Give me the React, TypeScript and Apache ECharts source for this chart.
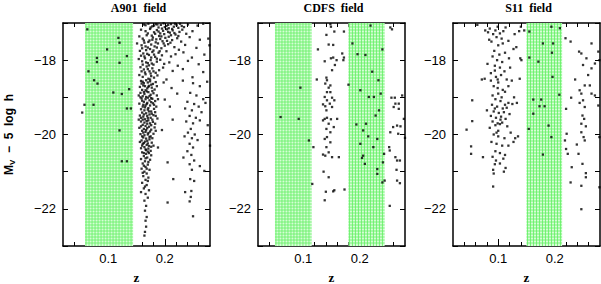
import React, { useEffect, useRef } from "react";
import * as echarts from "echarts";

// ---------- DATA ----------
const panelTitles = ["A901  field", "CDFS  field", "S11  field"];
const xMin = 0.02;
const xMax = 0.28;
const yMin = -23;
const yMax = -17;
const xMajorTicks = [0.1, 0.2];
const xMinorTicks = [0.04, 0.06, 0.08, 0.1, 0.12, 0.14, 0.16, 0.18, 0.2, 0.22, 0.24, 0.26];

// green shaded redshift bands per panel [zStart, zEnd]
const a901Bands = [[0.059, 0.144]];
const cdfsBands = [[0.05, 0.115], [0.18, 0.244]];
const s11Bands = [[0.15, 0.213]];

// A901 points inside / left of the band
const a901Field: number[][] = [
  [0.063, -17.17], [0.118, -17.4], [0.12, -17.53], [0.098, -17.71], [0.133, -17.89], [0.08, -17.94],
  [0.08, -18.05], [0.12, -18.07], [0.065, -18.3], [0.075, -18.54], [0.081, -18.63], [0.109, -18.87],
  [0.124, -18.91], [0.137, -18.78], [0.058, -19.2], [0.074, -19.2], [0.054, -19.41], [0.133, -19.3],
  [0.14, -19.3], [0.12, -19.89], [0.124, -20.72], [0.133, -20.72],
];

// A901 bright end (top) of the cluster
const a901Top: number[][] = [
  [0.163, -17.04], [0.171, -17.02], [0.178, -17.09], [0.184, -17.03], [0.189, -17.12], [0.193, -17.05],
  [0.198, -17.01], [0.203, -17.08], [0.207, -17.14], [0.211, -17.03], [0.216, -17.1], [0.221, -17.06],
  [0.227, -17.02], [0.234, -17.11], [0.241, -17.04], [0.258, -17.07], [0.268, -17.02],
  [0.158, -17.18], [0.166, -17.22], [0.174, -17.16], [0.181, -17.25], [0.186, -17.19], [0.192, -17.28],
  [0.197, -17.21], [0.204, -17.17], [0.209, -17.26], [0.214, -17.2], [0.219, -17.31], [0.226, -17.24],
  [0.231, -17.18], [0.238, -17.29], [0.249, -17.22],
  [0.155, -17.36], [0.161, -17.42], [0.168, -17.33], [0.173, -17.47], [0.179, -17.39], [0.185, -17.44],
  [0.19, -17.35], [0.196, -17.49], [0.201, -17.4], [0.207, -17.37], [0.213, -17.46], [0.222, -17.41],
  [0.229, -17.5], [0.244, -17.38], [0.262, -17.45], [0.277, -17.42],
  [0.151, -17.55], [0.159, -17.6], [0.164, -17.53], [0.17, -17.66], [0.176, -17.58], [0.182, -17.63],
  [0.188, -17.55], [0.194, -17.68], [0.2, -17.61], [0.206, -17.57], [0.217, -17.65], [0.225, -17.72],
  [0.236, -17.59], [0.256, -17.67], [0.279, -17.6],
  [0.156, -17.75], [0.162, -17.82], [0.167, -17.73], [0.172, -17.86], [0.178, -17.78], [0.183, -17.91],
  [0.189, -17.8], [0.195, -17.87], [0.203, -17.76], [0.211, -17.9], [0.219, -17.84], [0.233, -17.79],
  [0.248, -17.93], [0.27, -17.85],
  [0.154, -17.97], [0.16, -18.03], [0.165, -17.95], [0.17, -18.08], [0.175, -18.0], [0.18, -18.12],
  [0.186, -18.04], [0.192, -17.99], [0.199, -18.1], [0.208, -18.06], [0.223, -18.15], [0.241, -18.02],
  [0.26, -18.11],
  [0.157, -18.19], [0.163, -18.25], [0.168, -18.17], [0.173, -18.3], [0.178, -18.22], [0.184, -18.34],
  [0.19, -18.27], [0.197, -18.2], [0.214, -18.29], [0.232, -18.24], [0.268, -18.32],
  [0.155, -18.4], [0.161, -18.45], [0.166, -18.38], [0.171, -18.5], [0.176, -18.43], [0.181, -18.47],
  [0.187, -18.41], [0.203, -18.52], [0.249, -18.46],
  [0.166, -17.06], [0.175, -17.12], [0.181, -17.07], [0.187, -17.04], [0.195, -17.15], [0.2, -17.11],
  [0.206, -17.05], [0.213, -17.16], [0.218, -17.02], [0.224, -17.13], [0.23, -17.08], [0.17, -17.28],
  [0.177, -17.34], [0.183, -17.29], [0.189, -17.23], [0.194, -17.36], [0.199, -17.3], [0.206, -17.24],
  [0.211, -17.33], [0.217, -17.27], [0.224, -17.35], [0.163, -17.47], [0.171, -17.51], [0.178, -17.45],
  [0.184, -17.52], [0.192, -17.43], [0.198, -17.55], [0.204, -17.48], [0.21, -17.53], [0.16, -17.68],
  [0.166, -17.63], [0.174, -17.7], [0.18, -17.74], [0.186, -17.66], [0.191, -17.76], [0.158, -17.88],
  [0.164, -17.9], [0.169, -17.83], [0.176, -17.93], [0.181, -17.85], [0.186, -17.96], [0.161, -18.12],
  [0.167, -18.06], [0.172, -18.14], [0.177, -18.09], [0.159, -18.3], [0.165, -18.33], [0.17, -18.24],
  [0.175, -18.36], [0.18, -18.3],
];

// A901 dense core of the cluster
const a901Core: number[][] = [
  [0.158, -18.56], [0.163, -18.62], [0.167, -18.54], [0.17, -18.6], [0.174, -18.57], [0.179, -18.64],
  [0.184, -18.59], [0.162, -18.68], [0.156, -18.72], [0.165, -18.7], [0.169, -18.76], [0.172, -18.69],
  [0.177, -18.74], [0.182, -18.79], [0.16, -18.8], [0.168, -18.84], [0.157, -18.88], [0.164, -18.91],
  [0.171, -18.86], [0.175, -18.93], [0.18, -18.89], [0.186, -18.95], [0.161, -18.97], [0.167, -18.99],
  [0.159, -19.03], [0.166, -19.05], [0.17, -19.01], [0.173, -19.08], [0.178, -19.04], [0.183, -19.1],
  [0.163, -19.12], [0.169, -19.15], [0.155, -19.17], [0.162, -19.2], [0.168, -19.18], [0.174, -19.22],
  [0.179, -19.16], [0.185, -19.25], [0.165, -19.27], [0.171, -19.29], [0.158, -19.32], [0.164, -19.35],
  [0.17, -19.33], [0.176, -19.38], [0.181, -19.31], [0.16, -19.41], [0.167, -19.43], [0.173, -19.46],
  [0.156, -19.49], [0.162, -19.52], [0.169, -19.5], [0.175, -19.55], [0.18, -19.48], [0.187, -19.57],
  [0.165, -19.59], [0.171, -19.62], [0.158, -19.65], [0.164, -19.68], [0.168, -19.64], [0.174, -19.7],
  [0.179, -19.66], [0.161, -19.74], [0.166, -19.77], [0.172, -19.79], [0.155, -19.82], [0.163, -19.85],
  [0.169, -19.83], [0.176, -19.87], [0.182, -19.81], [0.16, -19.9], [0.166, -19.93], [0.171, -19.96],
  [0.157, -19.99], [0.164, -20.02], [0.17, -20.0], [0.175, -20.05], [0.18, -19.98], [0.162, -20.08],
  [0.167, -20.11], [0.173, -20.13], [0.159, -20.16], [0.165, -20.19], [0.169, -20.17], [0.177, -20.22],
  [0.161, -20.25], [0.168, -20.28], [0.172, -20.31], [0.164, -20.34], [0.158, -20.37], [0.166, -20.4],
  [0.171, -20.38], [0.175, -20.44],
  [0.161, -18.58], [0.176, -18.66], [0.166, -18.81], [0.173, -18.97], [0.16, -19.09], [0.176, -19.13],
  [0.166, -19.22], [0.177, -19.44], [0.163, -19.46], [0.17, -19.56], [0.176, -19.75], [0.167, -19.88],
  [0.173, -20.07], [0.163, -20.23], [0.17, -20.46],
  [0.159, -18.63], [0.171, -18.72], [0.178, -18.83], [0.163, -18.86], [0.157, -19.0], [0.176, -19.02],
  [0.181, -19.2], [0.161, -19.25], [0.172, -19.38], [0.183, -19.4], [0.158, -19.55], [0.178, -19.6],
  [0.161, -19.6], [0.169, -19.71], [0.183, -19.71], [0.158, -19.78], [0.174, -19.92], [0.162, -19.95],
  [0.178, -20.1], [0.16, -20.05], [0.17, -20.24], [0.176, -20.33], [0.16, -20.3], [0.167, -20.42],
  [0.163, -20.5], [0.176, -20.56], [0.166, -20.64], [0.171, -20.74], [0.163, -20.84], [0.168, -20.92],
  [0.161, -21.03], [0.17, -21.25], [0.165, -21.4], [0.174, -18.52], [0.186, -18.7], [0.188, -19.05],
  [0.184, -19.5], [0.184, -19.9], [0.18, -20.3], [0.154, -18.95], [0.154, -19.6], [0.156, -20.2],
  [0.16, -20.48], [0.167, -20.52], [0.172, -20.5], [0.163, -20.58], [0.169, -20.62], [0.158, -20.66],
  [0.174, -20.68], [0.165, -20.72], [0.161, -20.78], [0.17, -20.81], [0.166, -20.87], [0.159, -20.92],
  [0.173, -20.95], [0.164, -21.0], [0.168, -21.05], [0.162, -21.12], [0.171, -21.16], [0.166, -21.22],
  [0.16, -21.3], [0.168, -21.36], [0.163, -21.45], [0.172, -21.5], [0.158, -21.55], [0.166, -21.6],
  [0.17, -21.7], [0.164, -21.78], [0.167, -21.92], [0.165, -22.05], [0.168, -22.22], [0.166, -22.32],
  [0.167, -22.48], [0.165, -22.62], [0.164, -22.72],
];

// A901 background galaxies at higher z
const a901Back: number[][] = [
  [0.198, -18.6], [0.212, -18.75], [0.232, -18.55], [0.25, -18.62], [0.262, -18.7], [0.275, -18.58],
  [0.245, -18.88], [0.256, -18.95], [0.222, -18.9], [0.268, -19.05], [0.24, -19.12], [0.252, -19.18],
  [0.26, -19.25], [0.272, -19.15], [0.236, -19.3], [0.248, -19.35], [0.265, -19.4], [0.209, -19.25],
  [0.244, -19.5], [0.255, -19.55], [0.238, -19.65], [0.25, -19.7], [0.262, -19.62], [0.276, -19.75],
  [0.214, -19.6], [0.246, -19.85], [0.241, -19.95], [0.253, -20.0], [0.235, -20.05], [0.248, -20.1],
  [0.258, -20.15], [0.244, -20.25], [0.25, -20.35], [0.28, -20.3], [0.24, -20.45], [0.247, -20.55],
  [0.233, -20.62], [0.252, -20.7], [0.244, -20.8], [0.262, -20.85], [0.248, -20.95], [0.27, -20.98],
  [0.245, -21.2], [0.252, -21.25], [0.236, -21.55], [0.247, -21.52], [0.246, -21.68], [0.244, -21.8],
  [0.205, -21.83], [0.25, -22.2], [0.188, -20.35], [0.195, -19.88], [0.2, -19.06], [0.205, -20.75],
  [0.215, -21.2],
];

const cdfsPoints: number[][] = [
  [0.06, -19.53], [0.092, -19.58], [0.095, -18.74], [0.11, -20.16], [0.118, -20.34], [0.116, -21.33],
  [0.126, -17.71], [0.124, -18.52],
  [0.148, -17.03], [0.149, -17.1], [0.141, -17.32], [0.155, -17.23], [0.145, -17.58], [0.153, -17.59],
  [0.138, -18.03], [0.149, -17.95], [0.153, -17.93], [0.159, -18.0], [0.156, -18.13], [0.151, -18.27],
  [0.141, -18.47], [0.142, -18.54], [0.139, -18.63], [0.148, -18.68], [0.145, -18.74], [0.142, -18.86],
  [0.148, -18.86], [0.138, -18.99], [0.142, -19.08], [0.151, -19.01], [0.155, -19.08], [0.135, -19.19],
  [0.139, -19.24], [0.147, -19.17], [0.151, -19.26], [0.141, -19.35], [0.138, -19.58], [0.142, -19.55],
  [0.135, -19.62], [0.149, -19.59], [0.16, -19.58], [0.145, -19.71], [0.154, -19.8], [0.141, -19.85],
  [0.148, -19.94], [0.142, -20.07], [0.138, -20.12], [0.148, -20.21], [0.141, -20.34], [0.145, -20.48],
  [0.135, -20.54], [0.139, -20.57], [0.151, -20.61], [0.163, -20.61], [0.136, -21.0], [0.145, -21.15],
  [0.14, -21.54], [0.138, -21.77], [0.153, -21.53], [0.155, -21.5], [0.173, -21.48], [0.172, -17.23],
  [0.169, -17.82], [0.172, -17.93], [0.171, -18.0],
  [0.18, -18.66], [0.187, -17.55], [0.196, -17.84], [0.201, -18.81], [0.21, -17.86], [0.222, -18.31],
  [0.216, -18.99], [0.225, -18.99], [0.233, -18.54], [0.24, -17.71], [0.237, -18.9], [0.228, -19.49],
  [0.234, -19.35], [0.211, -19.71], [0.206, -19.89], [0.201, -20.25], [0.206, -20.57], [0.204, -20.63],
  [0.209, -20.79], [0.215, -20.05], [0.224, -20.34], [0.231, -20.12], [0.231, -20.93], [0.231, -21.06],
  [0.24, -21.29], [0.243, -20.52], [0.241, -20.75], [0.244, -21.24], [0.194, -19.73], [0.219, -17.07],
  [0.254, -17.12], [0.257, -17.17], [0.253, -21.92], [0.252, -20.34], [0.256, -19.01], [0.26, -19.26],
  [0.263, -19.17], [0.269, -19.31], [0.259, -19.8], [0.266, -19.76], [0.272, -19.78], [0.268, -19.98],
  [0.254, -19.94], [0.253, -20.43], [0.263, -20.61], [0.266, -20.7], [0.271, -20.7], [0.265, -20.95],
  [0.266, -21.24], [0.271, -21.31], [0.278, -19.58], [0.28, -20.09], [0.275, -18.95], [0.262, -19.01],
  [0.269, -19.17],
];

const s11Points: number[][] = [
  [0.063, -17.05], [0.077, -17.2], [0.082, -17.25], [0.085, -17.15], [0.091, -17.3], [0.095, -17.2],
  [0.099, -17.1], [0.103, -17.28], [0.109, -17.22], [0.113, -17.12], [0.129, -17.3], [0.137, -17.22],
  [0.14, -17.1], [0.146, -17.2], [0.088, -17.5], [0.084, -17.45], [0.1, -17.6], [0.108, -17.55],
  [0.118, -17.48], [0.127, -17.7], [0.132, -17.65], [0.093, -17.75], [0.102, -17.85], [0.112, -17.8],
  [0.09, -17.9], [0.098, -18.0], [0.107, -18.05], [0.119, -17.95], [0.139, -17.95], [0.141, -18.0],
  [0.081, -18.1], [0.094, -18.15], [0.103, -18.2], [0.111, -18.3], [0.087, -18.35], [0.096, -18.45],
  [0.105, -18.4], [0.076, -18.5], [0.087, -18.55], [0.1, -18.6], [0.115, -18.52], [0.124, -18.55],
  [0.138, -18.5], [0.092, -18.7], [0.099, -18.75], [0.108, -18.8], [0.118, -18.7], [0.09, -18.95],
  [0.1, -18.9], [0.112, -18.85], [0.128, -19.0], [0.095, -19.05], [0.104, -19.1], [0.118, -19.15],
  [0.125, -19.18], [0.133, -19.15], [0.089, -19.2], [0.098, -19.25], [0.108, -19.3], [0.115, -19.28],
  [0.08, -19.35], [0.092, -19.38], [0.101, -19.42], [0.11, -19.4], [0.12, -19.45], [0.087, -19.5],
  [0.096, -19.55], [0.105, -19.52], [0.113, -19.58], [0.09, -19.65], [0.099, -19.7], [0.107, -19.68],
  [0.095, -19.75], [0.103, -19.72], [0.116, -19.78], [0.085, -19.82], [0.1, -19.9], [0.122, -19.95],
  [0.092, -20.0], [0.1, -20.05], [0.13, -20.1], [0.135, -20.05], [0.127, -20.2], [0.088, -20.2],
  [0.097, -20.25], [0.107, -20.3], [0.118, -20.3], [0.095, -20.45], [0.103, -20.5], [0.112, -20.55],
  [0.09, -20.6], [0.109, -20.65], [0.094, -20.8], [0.103, -20.78], [0.091, -20.95], [0.113, -20.9],
  [0.092, -21.05], [0.11, -21.0], [0.091, -21.4],
  [0.097, -17.38], [0.106, -17.42], [0.094, -18.28], [0.099, -18.52], [0.106, -19.0], [0.094, -19.3],
  [0.104, -19.6], [0.112, -19.2], [0.097, -19.95], [0.111, -20.1], [0.096, -20.7], [0.121, -18.2],
  [0.044, -19.87], [0.052, -20.32], [0.052, -20.52], [0.054, -19.08], [0.054, -19.64], [0.073, -20.61],
  [0.071, -18.52],
  [0.155, -17.23], [0.171, -18.04], [0.155, -17.93], [0.179, -17.55], [0.197, -17.55], [0.195, -17.8],
  [0.209, -17.14], [0.196, -18.45], [0.208, -18.93], [0.162, -19.06], [0.176, -19.06], [0.173, -19.24],
  [0.182, -19.24], [0.162, -19.44], [0.154, -19.85], [0.189, -19.76], [0.194, -20.07], [0.179, -20.54],
  [0.194, -17.1],
  [0.228, -17.5], [0.219, -17.41], [0.243, -17.77], [0.247, -17.82], [0.256, -17.95], [0.265, -17.55],
  [0.277, -17.77], [0.279, -18.0], [0.271, -18.09], [0.265, -18.22], [0.259, -18.4], [0.25, -18.13],
  [0.236, -18.52], [0.253, -18.68], [0.262, -18.68], [0.244, -18.81], [0.247, -18.9], [0.229, -19.01],
  [0.25, -19.08], [0.244, -19.15], [0.253, -19.26], [0.249, -19.49], [0.252, -19.58], [0.247, -19.71],
  [0.255, -19.78], [0.247, -19.94], [0.251, -20.07], [0.253, -20.16], [0.22, -19.31], [0.221, -19.98],
  [0.218, -20.16], [0.22, -20.39], [0.223, -20.52], [0.239, -20.27], [0.242, -20.52], [0.23, -20.88],
  [0.228, -21.29], [0.249, -20.79], [0.255, -21.04], [0.247, -21.38], [0.255, -21.15], [0.247, -22.01],
  [0.277, -19.22], [0.279, -20.07], [0.279, -21.42], [0.271, -18.95], [0.265, -18.9],
];

// ---------- CHART ----------
const gridLefts = [63, 258, 453];
const gridTop = 23;
const gridW = 147;
const gridH = 223;

export default function App() {
  const ref = useRef<HTMLDivElement>(null);
  useEffect(() => {
    if (!ref.current) return;
    const chart = echarts.init(ref.current, null, { renderer: "svg" });
    const panelsData = [a901Field.concat(a901Top, a901Core, a901Back), cdfsPoints, s11Points];
    const panelsBands = [a901Bands, cdfsBands, s11Bands];
    const axisLineStyle = { color: "#000", width: 1.5 };
    const tickStyle = { color: "#000", width: 1 };
    const labelFont = { fontFamily: "Liberation Sans", fontSize: 13, color: "#000" };

    const grids: any[] = [];
    const xAxes: any[] = [];
    const yAxes: any[] = [];
    const series: any[] = [];
    const graphics: any[] = [];

    for (let i = 0; i < 3; i++) {
      grids.push({
        left: gridLefts[i],
        top: gridTop,
        width: gridW,
        height: gridH,
        containLabel: false,
        outerBoundsMode: "none",
      });
      const base = { gridIndex: i, type: "value", min: xMin, max: xMax, splitLine: { show: false } };
      xAxes.push({
        ...base,
        position: "bottom",
        axisLine: { show: true, lineStyle: axisLineStyle },
        axisTick: { show: true, inside: true, length: 7, customValues: xMajorTicks, lineStyle: tickStyle },
        axisLabel: { show: true, customValues: xMajorTicks, margin: 6, formatter: (v: number) => v.toFixed(1), ...labelFont },
        name: "z",
        nameLocation: "middle",
        nameGap: 25,
        nameTextStyle: { fontFamily: "Liberation Serif", fontWeight: "bold", fontSize: 13, color: "#000" },
      });
      xAxes.push({
        ...base,
        position: "bottom",
        axisLine: { show: false },
        axisTick: { show: true, inside: true, length: 4, customValues: xMinorTicks, lineStyle: tickStyle },
        axisLabel: { show: false },
      });
      xAxes.push({
        ...base,
        position: "top",
        axisLine: { show: true, lineStyle: axisLineStyle },
        axisTick: { show: true, inside: true, length: 7, customValues: xMajorTicks, lineStyle: tickStyle },
        axisLabel: { show: false },
      });
      xAxes.push({
        ...base,
        position: "top",
        axisLine: { show: false },
        axisTick: { show: true, inside: true, length: 4, customValues: xMinorTicks, lineStyle: tickStyle },
        axisLabel: { show: false },
      });
      const ybase = { gridIndex: i, type: "value", min: yMin, max: yMax, interval: 1, splitLine: { show: false } };
      yAxes.push({
        ...ybase,
        position: "left",
        axisLine: { show: true, lineStyle: axisLineStyle },
        axisTick: { show: true, inside: true, length: 5, lineStyle: tickStyle },
        axisLabel: {
          show: true,
          margin: 7,
          formatter: (v: number) => (Math.round(v) % 2 === 0 ? "\u2212" + Math.abs(v) : ""),
          ...labelFont,
        },
        ...(i === 0
          ? {
              name: "{m|M}{s|V}{m|  \u2212  5  log  h}",
              nameLocation: "middle",
              nameRotate: 90,
              nameGap: 47,
              nameTextStyle: {
                rich: {
                  m: { fontFamily: "Liberation Sans", fontWeight: "bold", fontSize: 12, color: "#000" },
                  s: { fontFamily: "Liberation Sans", fontWeight: "bold", fontSize: 8, color: "#000", padding: [6, 0, 0, 0] },
                },
              },
            }
          : {}),
      });
      yAxes.push({
        ...ybase,
        position: "right",
        axisLine: { show: true, lineStyle: axisLineStyle },
        axisTick: { show: true, inside: true, length: 5, lineStyle: tickStyle },
        axisLabel: { show: false },
      });

      series.push({
        type: "custom",
        xAxisIndex: i * 4,
        yAxisIndex: i * 2,
        silent: true,
        z: 1,
        clip: true,
        data: panelsBands[i],
        encode: { x: [0, 1] },
        renderItem: (params: any, api: any) => {
          const cs = params.coordSys;
          const xa = api.coord([api.value(0), yMax])[0];
          const xb = api.coord([api.value(1), yMax])[0];
          const top = cs.y;
          const h = cs.height;
          const children: any[] = [
            { type: "rect", shape: { x: xa, y: top, width: xb - xa, height: h }, style: { fill: "#d6fdd6" } },
          ];
          for (let x = xa + 1; x < xb; x += 3) {
            children.push({ type: "line", shape: { x1: x, y1: top, x2: x, y2: top + h }, style: { stroke: "#62f062", lineWidth: 0.8 } });
          }
          for (let y = top + 1; y < top + h; y += 3) {
            children.push({ type: "line", shape: { x1: xa, y1: y, x2: xb, y2: y }, style: { stroke: "#62f062", lineWidth: 0.8 } });
          }
          return { type: "group", children };
        },
      });
      series.push({
        type: "scatter",
        xAxisIndex: i * 4,
        yAxisIndex: i * 2,
        symbol: "rect",
        symbolSize: 2.3,
        z: 3,
        itemStyle: { color: "#000" },
        data: panelsData[i],
      });
      graphics.push({
        type: "text",
        x: gridLefts[i] + gridW / 2 + 2,
        y: 8,
        style: {
          text: panelTitles[i],
          align: "center",
          verticalAlign: "middle",
          fontFamily: "Liberation Serif",
          fontWeight: "bold",
          fontSize: 12,
          fill: "#000",
        },
      });
    }

    chart.setOption({
      animation: false,
      backgroundColor: "#fff",
      grid: grids,
      xAxis: xAxes,
      yAxis: yAxes,
      series,
      graphic: graphics,
    });
    return () => chart.dispose();
  }, []);
  return <div ref={ref} style={{ position: "fixed", left: 0, top: 0, width: 601, height: 284 }} />;
}
